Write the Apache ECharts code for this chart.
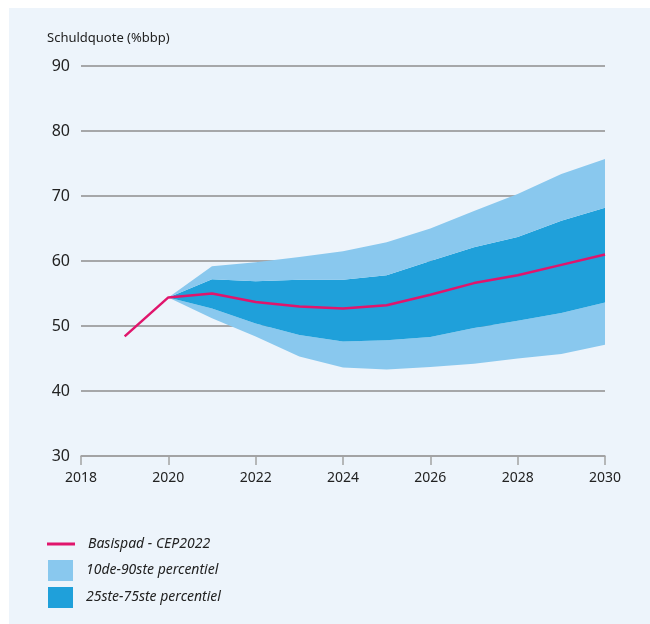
<!DOCTYPE html>
<html>
<head>
<meta charset="utf-8">
<script src="https://cdn.jsdelivr.net/npm/echarts@6/dist/echarts.min.js"></script>
<style>
  html, body { margin: 0; padding: 0; background: #fff; }
  #chart { width: 650px; height: 624px; }
</style>
</head>
<body>
<div id="chart"></div>
<script>
// jaren op de x-as
var years = ['2018', '2019', '2020', '2021', '2022', '2023', '2024', '2025', '2026', '2027', '2028', '2029', '2030'];

// basispad CEP2022 (geen waarde voor 2018)
var basispad = ['-', 48.4, 54.4, 55.0, 53.7, 53.0, 52.7, 53.2, 54.8, 56.6, 57.8, 59.4, 61.0];

// percentielen, vanaf 2020
var p10 = ['-', '-', 54.4, 51.2, 48.4, 45.3, 43.6, 43.3, 43.7, 44.2, 45.0, 45.7, 47.1];
var p25 = ['-', '-', 54.4, 52.7, 50.4, 48.6, 47.6, 47.8, 48.3, 49.7, 50.8, 52.0, 53.6];
var p75 = ['-', '-', 54.4, 57.2, 56.9, 57.1, 57.1, 57.8, 60.0, 62.1, 63.7, 66.2, 68.2];
var p90 = ['-', '-', 54.4, 59.2, 59.8, 60.6, 61.5, 62.9, 65.0, 67.7, 70.3, 73.4, 75.7];

var yTicks = [30, 40, 50, 60, 70, 80, 90];

var LIGHT = '#89c8ee';
var DARK = '#1fa0da';
var RED = '#e0156c';
var FONT = "'Noto Sans', sans-serif";

// breedte van een band = verschil tussen twee percentielen
function diff(a, b) {
  return a.map(function (v, i) {
    return v === '-' ? '-' : +(v - b[i]).toFixed(2);
  });
}

var bandBase = {
  type: 'line',
  stack: 'fan',
  symbol: 'none',
  lineStyle: { width: 0 }
};

var legendText = { fontFamily: FONT, fontSize: 14, fontStyle: 'italic', color: '#222', padding: [0, 0, 0, 8] };

var chart = echarts.init(document.getElementById('chart'));
chart.setOption({
  backgroundColor: '#fff',
  animation: false,
  graphic: [{
    type: 'rect',
    left: 9, top: 8, z: -10,
    shape: { width: 641, height: 616 },
    style: { fill: '#edf4fb' }
  }],
  title: {
    text: 'Schuldquote (%bbp)',
    left: 42, top: 27,
    textStyle: { fontFamily: FONT, fontSize: 13, fontWeight: 'normal', color: '#222' }
  },
  legend: [{
    orient: 'vertical',
    left: 42, top: 532,
    itemWidth: 28, itemHeight: 21,
    textStyle: legendText,
    data: [{ name: 'Basispad - CEP2022', icon: 'path://M0,0 L28,0 L28,3 L0,3 Z' }]
  }, {
    orient: 'vertical',
    left: 43, top: 555,
    itemWidth: 25, itemHeight: 21, itemGap: 6,
    textStyle: legendText,
    data: [
      { name: '10de-90ste percentiel', icon: 'rect' },
      { name: '25ste-75ste percentiel', icon: 'rect' }
    ]
  }],
  grid: { left: 81, right: 45, top: 66, bottom: 168 },
  xAxis: {
    type: 'category',
    data: years,
    boundaryGap: false,
    splitLine: { show: false },
    axisLine: { show: true, lineStyle: { color: '#a3a3a3', width: 1.5 } },
    axisTick: { show: true, interval: 1, length: 9, lineStyle: { color: '#a3a3a3', width: 1.5 } },
    axisLabel: { interval: 1, margin: 15, fontFamily: FONT, fontSize: 14, color: '#222' }
  },
  yAxis: {
    type: 'value',
    min: yTicks[0], max: yTicks[yTicks.length - 1], interval: 10,
    axisLine: { show: false },
    axisTick: { show: false },
    splitLine: { lineStyle: { color: '#8e8e8e', width: 1.5 } },
    axisLabel: { margin: 11, fontFamily: FONT, fontSize: 16, color: '#222' }
  },
  series: [
    Object.assign({}, bandBase, {
      name: 'base',
      data: p10,
      areaStyle: { opacity: 0 }
    }),
    Object.assign({}, bandBase, {
      name: '10de-90ste percentiel',
      color: LIGHT,
      data: diff(p25, p10),
      areaStyle: { color: LIGHT, opacity: 1 }
    }),
    Object.assign({}, bandBase, {
      name: '25ste-75ste percentiel',
      color: DARK,
      data: diff(p75, p25),
      areaStyle: { color: DARK, opacity: 1 }
    }),
    Object.assign({}, bandBase, {
      name: '10de-90ste percentiel',
      color: LIGHT,
      data: diff(p90, p75),
      areaStyle: { color: LIGHT, opacity: 1 }
    }),
    {
      name: 'Basispad - CEP2022',
      type: 'line',
      color: RED,
      symbol: 'none',
      z: 5,
      lineStyle: { color: RED, width: 2.5 },
      data: basispad
    }
  ]
});
</script>
</body>
</html>
